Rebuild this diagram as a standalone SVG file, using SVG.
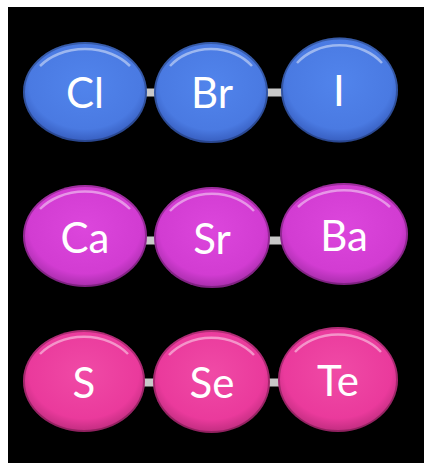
<svg xmlns="http://www.w3.org/2000/svg" width="424" height="463" viewBox="0 0 424 463">
<defs>
<radialGradient id="gB" cx="50%" cy="42%" r="60%">
<stop offset="0" stop-color="#5184ec"/><stop offset="0.75" stop-color="#4a7ae2"/><stop offset="1" stop-color="#3358b8"/>
</radialGradient>
<radialGradient id="gM" cx="50%" cy="42%" r="60%">
<stop offset="0" stop-color="#dc46dc"/><stop offset="0.75" stop-color="#d23cd2"/><stop offset="1" stop-color="#a02aa4"/>
</radialGradient>
<radialGradient id="gP" cx="50%" cy="42%" r="60%">
<stop offset="0" stop-color="#f04aa6"/><stop offset="0.75" stop-color="#ea3a9c"/><stop offset="1" stop-color="#b82a7a"/>
</radialGradient>
</defs>
<style>
.t{font-family:Lato,"Open Sans",sans-serif;font-size:42px;fill:#ffffff;text-anchor:middle}
.c{stroke:#c8c8c8;stroke-width:8;fill:none}
.hl{fill:none;stroke:#ffffff;stroke-opacity:0.45;stroke-width:2.5}
.rim{fill:none;stroke:#000000;stroke-opacity:0.25;stroke-width:2}
</style>
<rect x="8" y="7" width="416" height="456" fill="#000000"/>
<g id="connectors">
<line class="c" x1="85" y1="92.5" x2="339" y2="92.5"/>
<line class="c" x1="85" y1="240.5" x2="344" y2="240.5"/>
<line class="c" x1="84" y1="382.5" x2="338" y2="382.5"/>
</g>
<g id="Cl"><ellipse cx="85" cy="92" rx="62" ry="50" fill="url(#gB)"/><ellipse class="rim" cx="85" cy="92" rx="61" ry="49"/><path class="hl" d="M40,66 A56,42 0 0 1 130,66"/><text class="t" x="85" y="108">Cl</text></g>
<g id="Br"><ellipse cx="211" cy="92.5" rx="57" ry="50.5" fill="url(#gB)"/><ellipse class="rim" cx="211" cy="92.5" rx="56" ry="49.5"/><path class="hl" d="M170,66 A51,42 0 0 1 252,66"/><text class="t" x="212" y="108">Br</text></g>
<g id="I"><ellipse cx="339.5" cy="90" rx="58.5" ry="52.5" fill="url(#gB)"/><ellipse class="rim" cx="339.5" cy="90" rx="57.5" ry="51.5"/><path class="hl" d="M297,63 A53,44 0 0 1 382,63"/><text class="t" x="339" y="106">I</text></g>
<g id="Ca"><ellipse cx="85" cy="236" rx="62" ry="51" fill="url(#gM)"/><ellipse class="rim" cx="85" cy="236" rx="61" ry="50"/><path class="hl" d="M40,209 A56,43 0 0 1 130,209"/><text class="t" x="85" y="253">Ca</text></g>
<g id="Sr"><ellipse cx="212" cy="237.5" rx="58" ry="50.5" fill="url(#gM)"/><ellipse class="rim" cx="212" cy="237.5" rx="57" ry="49.5"/><path class="hl" d="M170,211 A52,42 0 0 1 254,211"/><text class="t" x="212" y="254">Sr</text></g>
<g id="Ba"><ellipse cx="344" cy="234" rx="64" ry="51" fill="url(#gM)"/><ellipse class="rim" cx="344" cy="234" rx="63" ry="50"/><path class="hl" d="M298,207 A58,43 0 0 1 390,207"/><text class="t" x="344" y="251">Ba</text></g>
<g id="S"><ellipse cx="84" cy="381" rx="61" ry="51" fill="url(#gP)"/><ellipse class="rim" cx="84" cy="381" rx="60" ry="50"/><path class="hl" d="M40,354 A55,43 0 0 1 128,354"/><text class="t" x="84" y="398">S</text></g>
<g id="Se"><ellipse cx="211.5" cy="381.5" rx="58.5" ry="51.5" fill="url(#gP)"/><ellipse class="rim" cx="211.5" cy="381.5" rx="57.5" ry="50.5"/><path class="hl" d="M169,355 A53,43 0 0 1 254,355"/><text class="t" x="212" y="398">Se</text></g>
<g id="Te"><ellipse cx="338" cy="379.5" rx="60" ry="52.5" fill="url(#gP)"/><ellipse class="rim" cx="338" cy="379.5" rx="59" ry="51.5"/><path class="hl" d="M295,352 A54,44 0 0 1 381,352"/><text class="t" x="338" y="396">Te</text></g>
</svg>
